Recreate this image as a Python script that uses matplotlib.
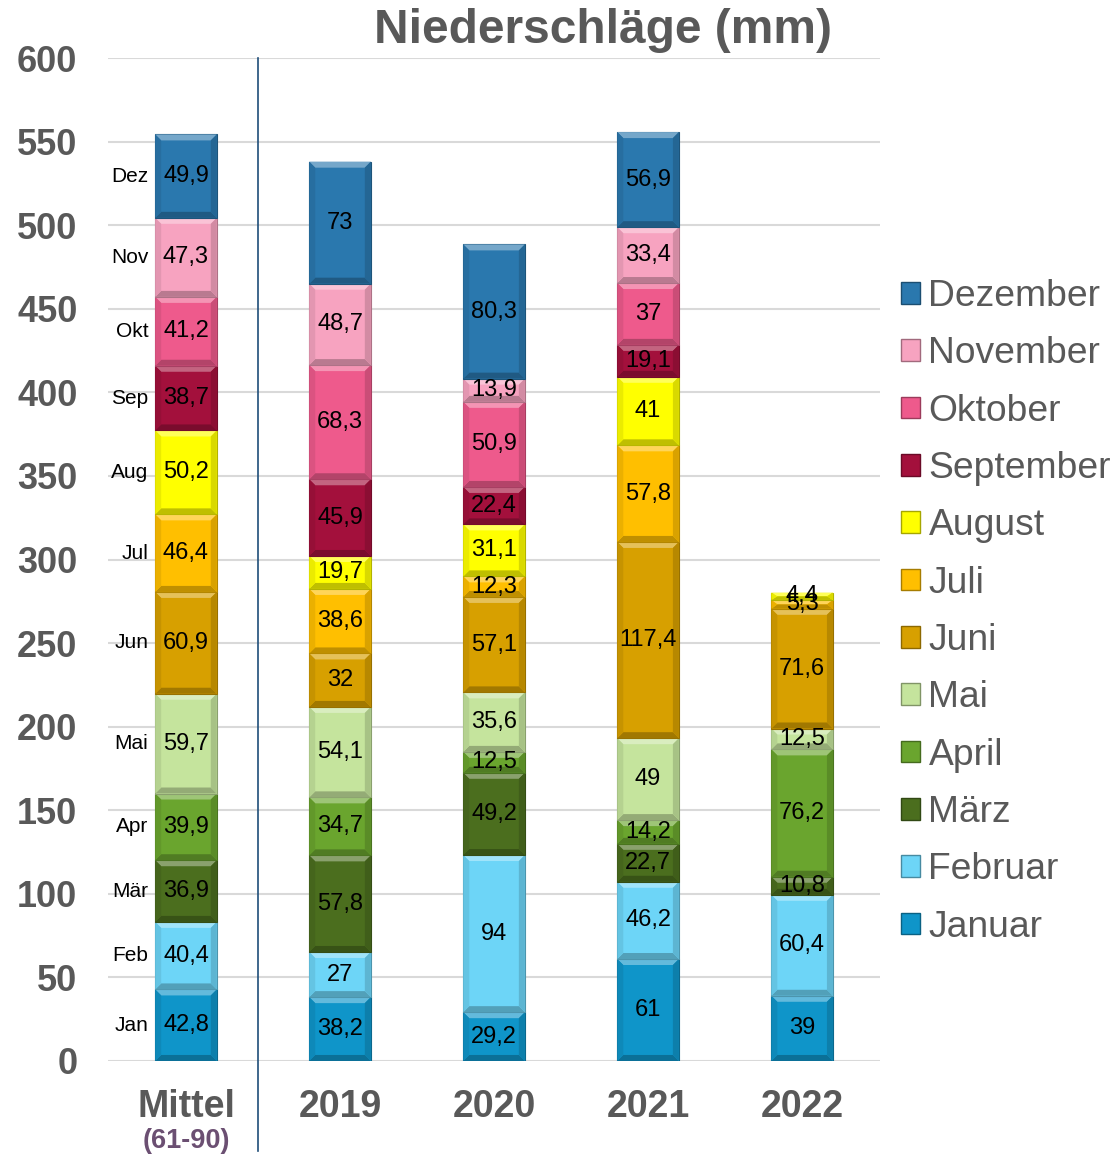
import matplotlib
matplotlib.use('Agg')
import matplotlib.pyplot as plt
from matplotlib.patches import Polygon, Rectangle
from matplotlib.colors import to_rgb
import numpy as np

plt.rcParams['font.family'] = ['Liberation Sans', 'DejaVu Sans']

# data
groups = ['Mittel', '2019', '2020', '2021', '2022']
months = ['Januar', 'Februar', 'März', 'April', 'Mai', 'Juni', 'Juli',
          'August', 'September', 'Oktober', 'November', 'Dezember']
month_abbr = ['Jan', 'Feb', 'Mär', 'Apr', 'Mai', 'Jun', 'Jul', 'Aug',
              'Sep', 'Okt', 'Nov', 'Dez']
mittel = [42.8, 40.4, 36.9, 39.9, 59.7, 60.9, 46.4, 50.2, 38.7, 41.2, 47.3, 49.9]
y2019 = [38.2, 27, 57.8, 34.7, 54.1, 32, 38.6, 19.7, 45.9, 68.3, 48.7, 73]
y2020 = [29.2, 94, 49.2, 12.5, 35.6, 57.1, 12.3, 31.1, 22.4, 50.9, 13.9, 80.3]
y2021 = [61, 46.2, 22.7, 14.2, 49, 117.4, 57.8, 41, 19.1, 37, 33.4, 56.9]
y2022 = [39, 60.4, 10.8, 76.2, 12.5, 71.6, 5.3, 4.4, 0, 0, 0, 0]

colors = ['#0F95C9', '#6DD5F7', '#4B6E1E', '#6AA52E', '#C5E49D', '#D7A000',
          '#FFBF00', '#FFFF00', '#A3103C', '#EE5A8C', '#F7A3C0', '#2A78AE']

data = np.array([mittel, y2019, y2020, y2021, y2022])
x = np.arange(len(groups))
width = 0.40

fig = plt.figure(figsize=(11.15, 11.56), dpi=100)
ax = fig.add_axes([0.0969, 0.0822, 0.6924, 0.8676])
ax.set_xlim(-0.506, 4.506)
ax.set_ylim(0, 600)

# px per data unit, for the bevel size
px_x = 154.0
px_y = 1003.0 / 600


def mix(c, t, amt):
    c = np.array(to_rgb(c))
    return tuple(c + (np.array(t) - c) * amt)


def bevel_bar(ax, xc, bottom, h, color):
    x0, x1 = xc - width / 2, xc + width / 2
    y0, y1 = bottom, bottom + h
    bx = 6 / px_x
    by = min(6 / px_y, h / 2)
    ax.add_patch(Rectangle((x0, y0), x1 - x0, h, facecolor=color,
                           edgecolor=mix(color, (0, 0, 0), 0.3), lw=0.8, zorder=3))
    top = [(x0, y1), (x1, y1), (x1 - bx, y1 - by), (x0 + bx, y1 - by)]
    bot = [(x0, y0), (x1, y0), (x1 - bx, y0 + by), (x0 + bx, y0 + by)]
    left = [(x0, y0), (x0 + bx, y0 + by), (x0 + bx, y1 - by), (x0, y1)]
    right = [(x1, y0), (x1 - bx, y0 + by), (x1 - bx, y1 - by), (x1, y1)]
    for pts, c in [(top, mix(color, (1, 1, 1), 0.35)),
                   (bot, mix(color, (0, 0, 0), 0.25)),
                   (left, mix(color, (0, 0, 0), 0.08)),
                   (right, mix(color, (0, 0, 0), 0.15))]:
        ax.add_patch(Polygon(pts, closed=True, facecolor=c, edgecolor='none', zorder=3))


def fmt(v):
    s = ('%.1f' % v).rstrip('0').rstrip('.')
    return s.replace('.', ',')


bottoms = np.zeros(len(groups))
for m in range(len(months)):
    for g in range(len(groups)):
        v = data[g, m]
        if v <= 0:
            continue
        bevel_bar(ax, x[g], bottoms[g], v, colors[m])
        ax.text(x[g], bottoms[g] + v / 2, fmt(v), ha='center', va='center',
                fontsize=17, color='black', zorder=5)
        if g == 0:
            ax.text(x[g] - width / 2 - 0.045, bottoms[g] + v / 2, month_abbr[m],
                    ha='right', va='center', fontsize=15, color='black', zorder=5)
    bottoms += data[:, m]

# gridlines
ax.set_yticks(np.arange(0, 601, 50))
ax.yaxis.grid(True, color='#D9D9D9', lw=1.5, zorder=0)
ax.set_axisbelow(True)
for s in ax.spines.values():
    s.set_visible(False)
ax.tick_params(axis='y', length=0, labelsize=26, labelcolor='#595959', pad=22)
for lab in ax.get_yticklabels():
    lab.set_fontweight('bold')
ax.set_xticks(x)
ax.set_xticklabels(groups, fontsize=27, fontweight='bold', color='#595959')
ax.tick_params(axis='x', length=0, pad=20)

ax.text(x[0], -48, '(61-90)', ha='center', va='center', fontsize=19.5,
        fontweight='bold', color='#6B4F72', clip_on=False)

# separator line
ax.plot([0.4675, 0.4675], [-54, 600], color='#1F4E79', lw=1.2, clip_on=False, zorder=2)

fig.text(0.541, 0.974, 'Niederschläge (mm)', ha='center', va='center',
         fontsize=34.5, fontweight='bold', color='#595959')

# legend
handles = [Rectangle((0, 0), 1, 1, facecolor=colors[m],
                     edgecolor=mix(colors[m], (0, 0, 0), 0.35), lw=1)
           for m in range(len(months))][::-1]
leg = fig.legend(handles, months[::-1], loc='center left',
                 bbox_to_anchor=(0.808, 0.4706), frameon=False, fontsize=26.8,
                 handlelength=0.52, handleheight=0.52, handletextpad=0.22,
                 labelspacing=0.6, borderpad=0, borderaxespad=0)
for t in leg.get_texts():
    t.set_color('#595959')

fig.savefig('out.png', dpi=100)
